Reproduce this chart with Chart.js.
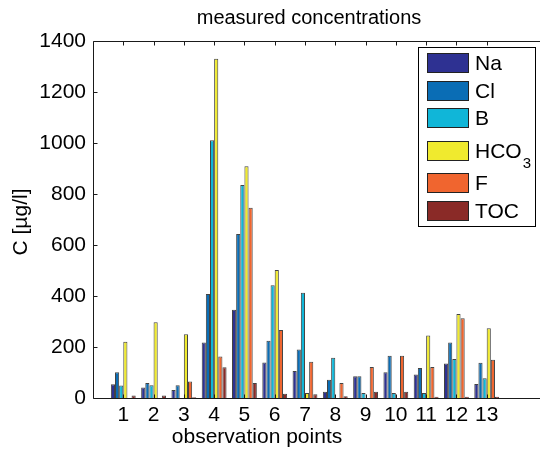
<!DOCTYPE html>
<html>
<head>
<meta charset="utf-8">
<script src="https://cdn.jsdelivr.net/npm/chart.js@4.4.0/dist/chart.umd.min.js"></script>
<style>
  html, body { margin: 0; padding: 0; background: #fff; }
</style>
</head>
<body>
<canvas id="myChart" width="540" height="450"></canvas>
<script>
const points = [1, 2, 3, 4, 5, 6, 7, 8, 9, 10, 11, 12, 13];
const na   = [54, 41, 31, 218, 346, 139, 106, 25, 85, 101, 92, 135, 55];
const cl   = [101, 59, 50, 408, 643, 225, 190, 72, 85, 166, 118, 218, 138];
const b    = [49, 50, 0, 1011, 835, 442, 413, 158, 20, 20, 20, 153, 77];
const hco3 = [221, 297, 250, 1330, 909, 502, 20, 0, 0, 0, 245, 329, 274];
const f    = [0, 0, 65, 163, 746, 267, 142, 59, 122, 166, 122, 313, 150];
const toc  = [10, 10, 3, 121, 59, 17, 15, 7, 25, 25, 5, 5, 5];

const seriesNames = ['Na', 'Cl', 'B', 'HCO_3', 'F', 'TOC'];
const seriesValues = [na, cl, b, hco3, f, toc];
const seriesColors = ['#2E3192', '#0A6DB5', '#10B6D8', '#F0EA2E', '#F0652F', '#8A2A27'];
const yTicks = [0, 200, 400, 600, 800, 1000, 1200, 1400];

const FONT = '"Liberation Sans", Arial, Helvetica, sans-serif';

const datasets = seriesNames.map((name, i) => ({
  label: name,
  data: points.map((p, j) => ({x: p, y: seriesValues[i][j]})),
  backgroundColor: seriesColors[i],
  borderColor: 'rgba(20,20,20,0.8)',
  borderWidth: 1,
  borderSkipped: 'bottom',
  categoryPercentage: 0.82,
  barPercentage: 1.0
}));

// box, inward ticks, texts and legend in the matlab style
const frame = {
  id: 'frame',
  afterDraw(chart) {
    const {ctx, chartArea: a, scales: {x, y}} = chart;
    ctx.save();
    ctx.strokeStyle = '#1a1a1a';
    ctx.lineWidth = 1;
    ctx.beginPath();
    const top = Math.round(a.top) + 0.5;
    const bot = Math.round(a.bottom) + 0.5;
    const left = Math.round(a.left) + 0.5;
    ctx.moveTo(left, top); ctx.lineTo(a.right, top);
    ctx.moveTo(left, bot); ctx.lineTo(a.right, bot);
    ctx.moveTo(left, top); ctx.lineTo(left, bot);
    points.forEach(p => {
      const px = Math.round(x.getPixelForValue(p)) + 0.5;
      ctx.moveTo(px, top); ctx.lineTo(px, top + 4);
      ctx.moveTo(px, bot); ctx.lineTo(px, bot - 4);
    });
    yTicks.forEach(v => {
      const py = Math.round(y.getPixelForValue(v)) + 0.5;
      ctx.moveTo(left, py); ctx.lineTo(left + 4, py);
    });
    ctx.stroke();

    ctx.fillStyle = '#000';
    ctx.textAlign = 'center';
    ctx.textBaseline = 'middle';
    ctx.font = '20px ' + FONT;
    ctx.fillText('measured concentrations', 309, 18);
    ctx.font = '21px ' + FONT;
    ctx.fillText('observation points', 257, 437);
    ctx.save();
    ctx.translate(21, 222);
    ctx.rotate(-Math.PI / 2);
    ctx.fillText('C [\u00b5g/l]', 0, 0);
    ctx.restore();

    // legend
    ctx.fillStyle = '#fff';
    ctx.fillRect(418, 47, 118, 180);
    ctx.strokeStyle = '#000';
    ctx.strokeRect(418.5, 47.5, 117, 179);
    const rows = [63, 91, 118, 151, 183, 211];
    ctx.textAlign = 'left';
    chart.data.datasets.forEach((ds, i) => {
      const cy = rows[i];
      ctx.fillStyle = ds.backgroundColor;
      ctx.fillRect(427, cy - 10, 42, 20);
      ctx.strokeStyle = '#222';
      ctx.strokeRect(427.5, cy - 9.5, 41, 19);
      ctx.fillStyle = '#000';
      ctx.font = '21px ' + FONT;
      const parts = ds.label.split('_');
      ctx.fillText(parts[0], 475, cy + 1);
      if (parts[1]) {
        const w = ctx.measureText(parts[0]).width;
        ctx.font = '15px ' + FONT;
        ctx.fillText(parts[1], 475 + w + 1, cy + 13);
      }
    });
    ctx.restore();
  }
};

const config = {
  type: 'bar',
  data: {datasets: datasets},
  options: {
    responsive: false,
    devicePixelRatio: 1,
    animation: false,
    layout: {padding: {top: 41, left: 0, right: 0, bottom: 0}},
    plugins: {
      legend: {display: false},
      title: {display: false},
      tooltip: {enabled: false}
    },
    scales: {
      x: {
        type: 'linear',
        offset: false,
        min: 0,
        max: 14.76,
        grid: {display: false, offset: false, drawTicks: false},
        border: {display: false},
        afterFit: s => { s.height = 52; },
        ticks: {
          stepSize: 1,
          includeBounds: false,
          autoSkip: false,
          maxRotation: 0,
          padding: 5,
          color: '#000',
          font: {family: FONT, size: 21},
          callback: v => (v >= 1 && v <= 13 && Number.isInteger(v)) ? String(v) : ''
        }
      },
      y: {
        min: 0,
        max: 1400,
        grid: {display: false, drawTicks: false},
        border: {display: false},
        afterFit: s => { s.width = 93; },
        ticks: {
          stepSize: 200,
          padding: 7,
          color: '#000',
          font: {family: FONT, size: 21},
          callback: v => String(v)
        }
      }
    }
  },
  plugins: [frame]
};

const myChart = new Chart(document.getElementById('myChart').getContext('2d'), config);
</script>
</body>
</html>
